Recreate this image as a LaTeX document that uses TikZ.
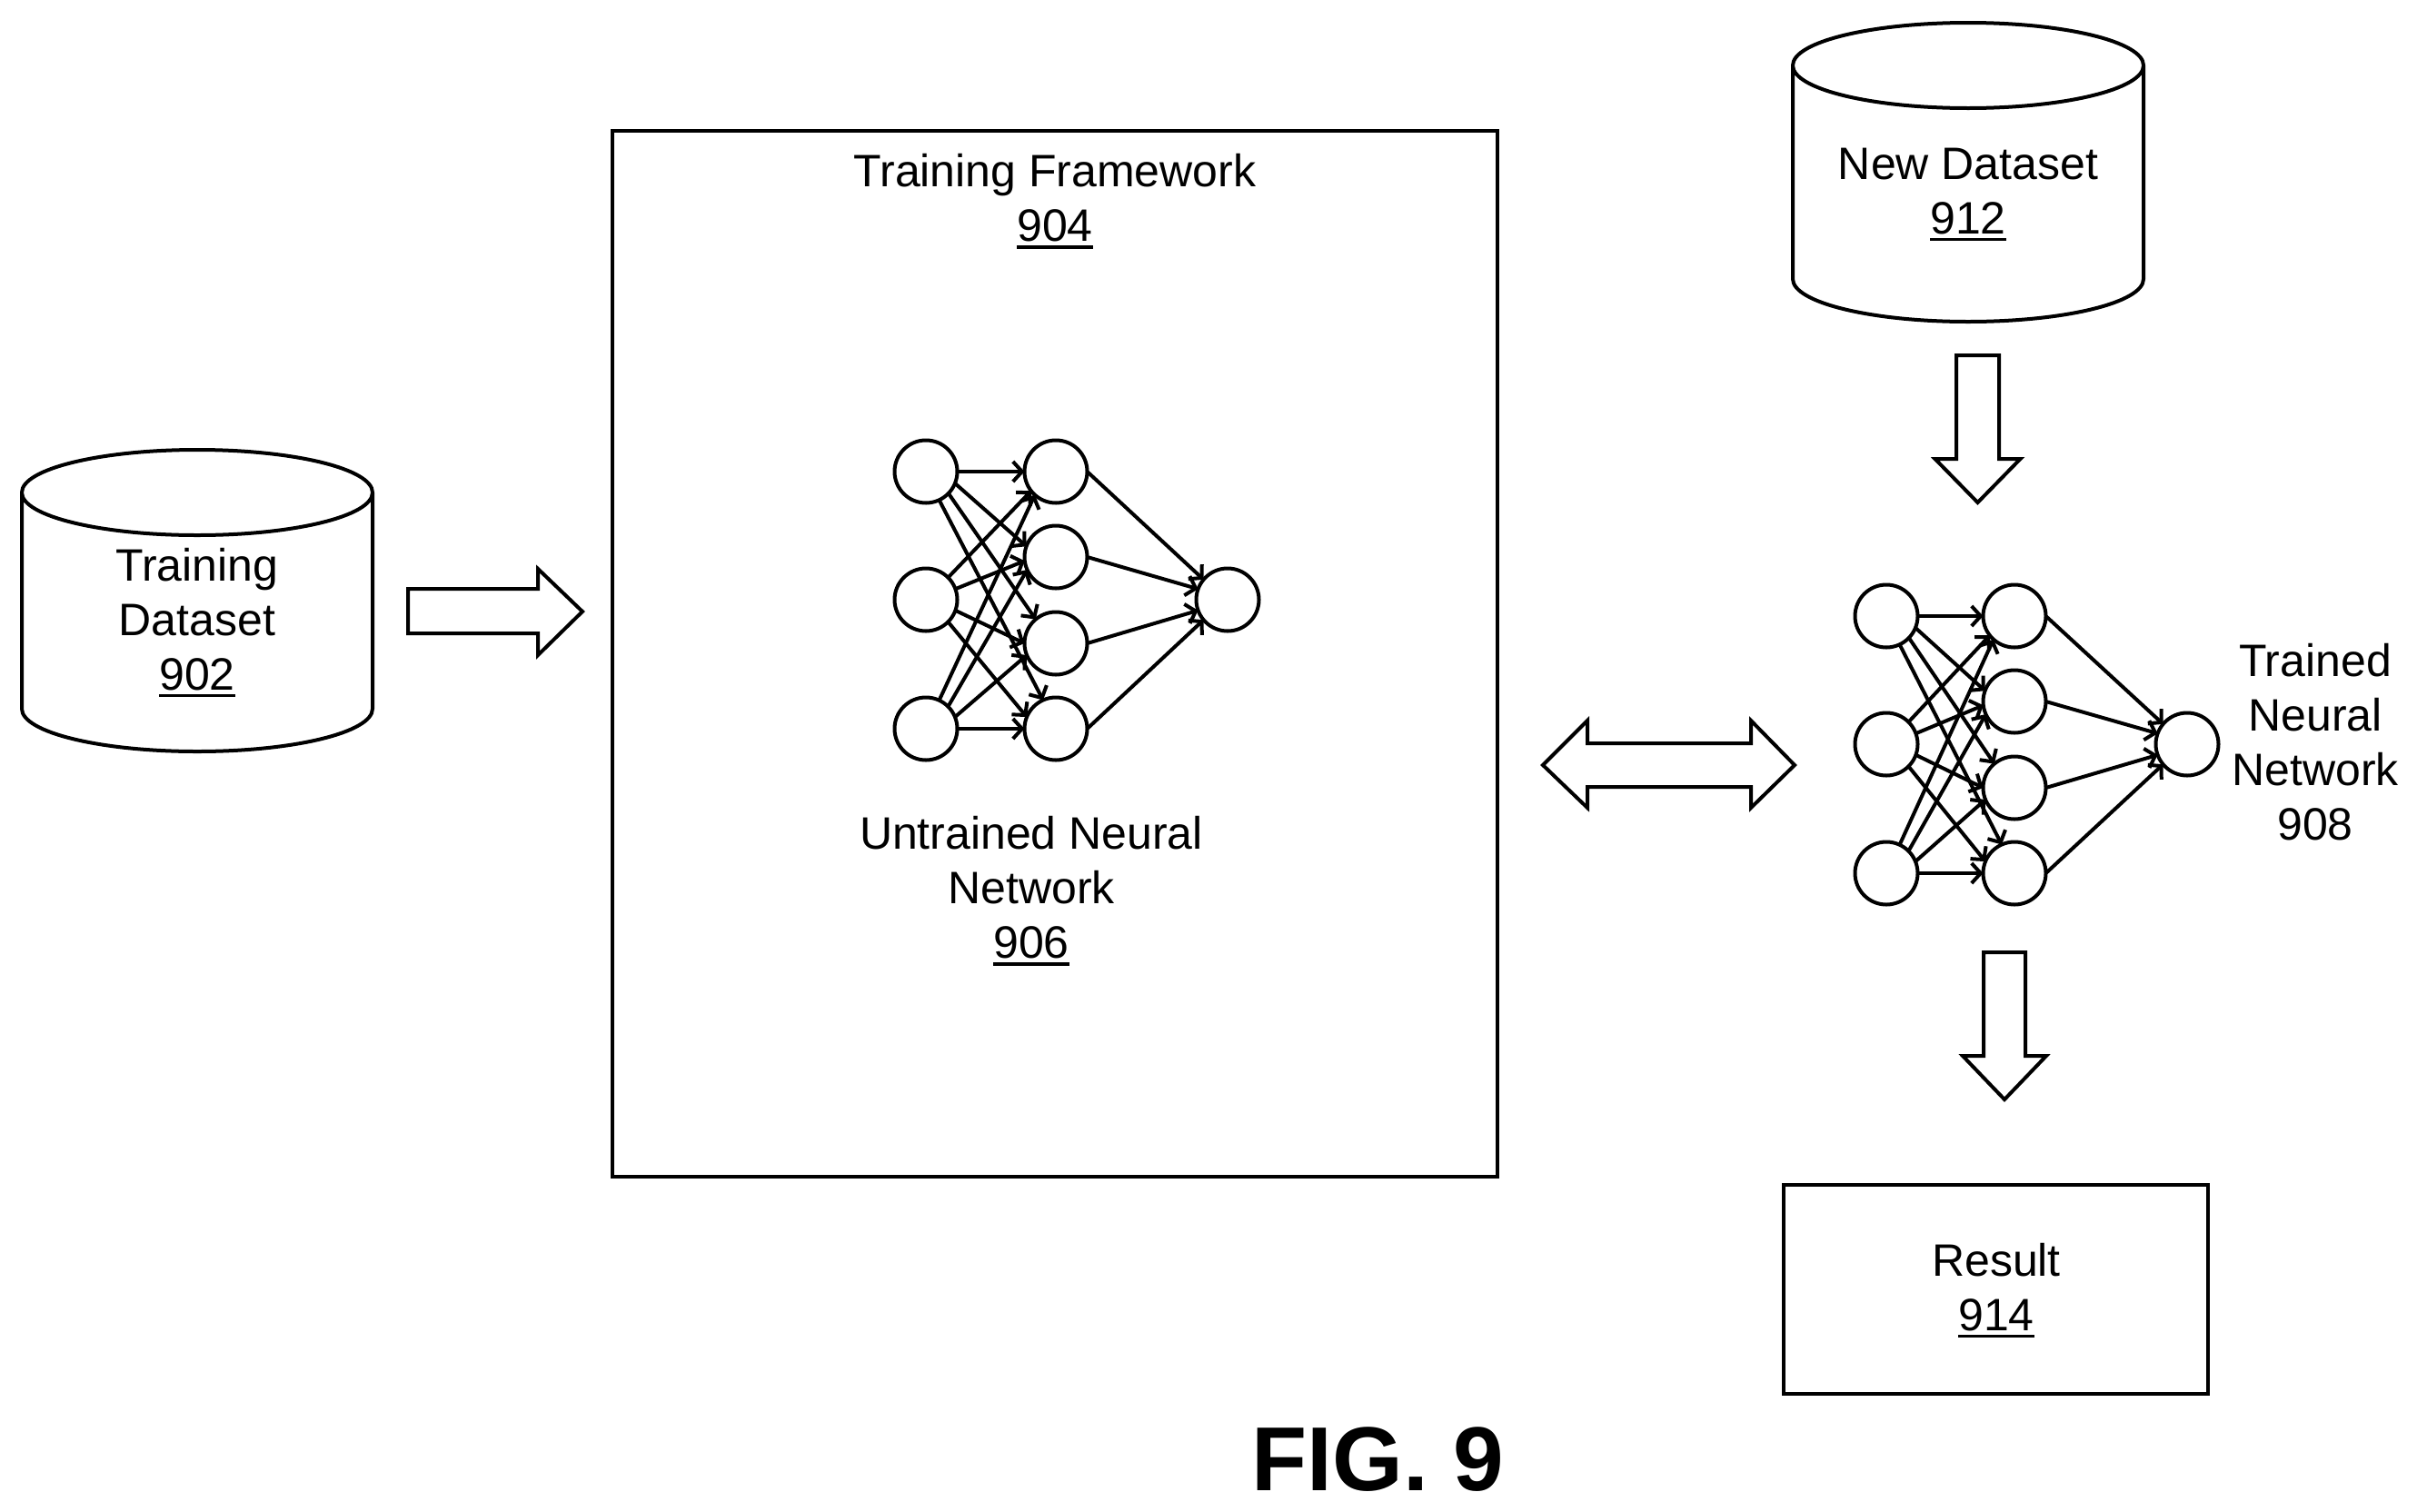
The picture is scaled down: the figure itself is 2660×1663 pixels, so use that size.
\documentclass[tikz,border=0pt]{standalone}
\usepackage{fontspec}
\setmainfont{Liberation Sans}
\usetikzlibrary{arrows.meta}
\tikzset{
  neuron/.style={circle,draw=black,line width=4pt,minimum size=69pt,inner sep=0pt,outer sep=0pt},
  link/.style={line width=4pt,-{Straight Barb[length=10pt,width=22pt]}},
  outline/.style={draw=black,line width=4pt,line join=miter},
  label/.style={font=\fontsize{50}{60}\selectfont,align=center,inner sep=0pt,anchor=base},
}
\newcommand{\ulnum}[1]{\setbox0\hbox{#1}\rlap{\rule[-8pt]{\wd0}{3.5pt}}\box0 }
\begin{document}
\begin{tikzpicture}[x=1pt,y=-1pt]
\useasboundingbox (0,0) rectangle (2660,1663);
% framework and result boxes
\node[outline,minimum width=974.5pt,minimum height=1151pt,inner sep=0pt] (framework) at (1160.75,719.5) {};
\node[outline,minimum width=467pt,minimum height=230pt,inner sep=0pt] (result) at (2196.5,1419) {};
% cylinders
\draw[outline] (24,542) arc[start angle=180,end angle=-180,x radius=193,y radius=47]
  -- (24,780) arc[start angle=180,end angle=0,x radius=193,y radius=47] -- (410,542);
\draw[outline] (1973,72) arc[start angle=180,end angle=-180,x radius=193,y radius=47]
  -- (1973,307) arc[start angle=180,end angle=0,x radius=193,y radius=47] -- (2359,72);
% block arrows
\draw[outline] (449,648) -- (592,648) -- (592,626) -- (641,673) -- (592,721) -- (592,697) -- (449,697) -- cycle;
\draw[outline] (1698,842) -- (1747,793) -- (1747,818) -- (1927,818) -- (1927,793) -- (1975,842) -- (1927,889) -- (1927,866) -- (1747,866) -- (1747,889) -- cycle;
\draw[outline] (2153,391) -- (2200,391) -- (2200,505) -- (2223.5,505) -- (2176.5,553) -- (2129.5,505) -- (2153,505) -- cycle;
\draw[outline] (2183,1048) -- (2229,1048) -- (2229,1162) -- (2252,1162) -- (2206,1210) -- (2160,1162) -- (2183,1162) -- cycle;
% untrained network
\foreach \n/\y in {1/519,2/660,3/802} \node[neuron] (ua\n) at (1019,\y) {};
\foreach \n/\y in {1/519,2/613,3/708,4/802} \node[neuron] (ub\n) at (1162,\y) {};
\node[neuron] (uc) at (1351,660) {};
% trained network
\foreach \n/\y in {1/678,2/819,3/961} \node[neuron] (ta\n) at (2076,\y) {};
\foreach \n/\y in {1/678,2/772,3/867,4/961} \node[neuron] (tb\n) at (2217,\y) {};
\node[neuron] (tc) at (2407,819) {};
% connectors of both networks
\foreach \p/\q/\r in {u/u/u,t/t/t}{
  \foreach \i/\ai/\j/\aj in {1/0/1/180,1/-22/2/160,1/-44/3/130,1/-65/4/114,
                             2/45/1/218,2/20/2/187,2/-20/3/180,2/-45/4/158,
                             3/65/1/228,3/45/2/204,3/22/3/202,3/0/4/180}
    \draw[link] (\p a\i.\ai) -- (\q b\j.\aj);
  \foreach \j/\aj in {1/140,2/160,3/200,4/220}
    \draw[link] (\p b\j.0) -- (\r c.\aj);
}
% labels
\node[label] (l902) at (217,759) {Training\\Dataset\\\ulnum{902}};
\node[label] (l904) at (1161,265.5) {Training Framework\\\ulnum{904}};
\node[label] (l906) at (1135,1054.5) {Untrained Neural\\Network\\\ulnum{906}};
\node[label] (l912) at (2166,257) {New Dataset\\\ulnum{912}};
\node[label] (l908) at (2548,924) {Trained\\Neural\\Network\\908};
\node[label] (l914) at (2197,1464) {Result\\\ulnum{914}};
\node[inner sep=0pt,anchor=base,font=\fontsize{100}{120}\selectfont\bfseries] (fig) at (1516.5,1640) {FIG. 9};
\end{tikzpicture}
\end{document}
